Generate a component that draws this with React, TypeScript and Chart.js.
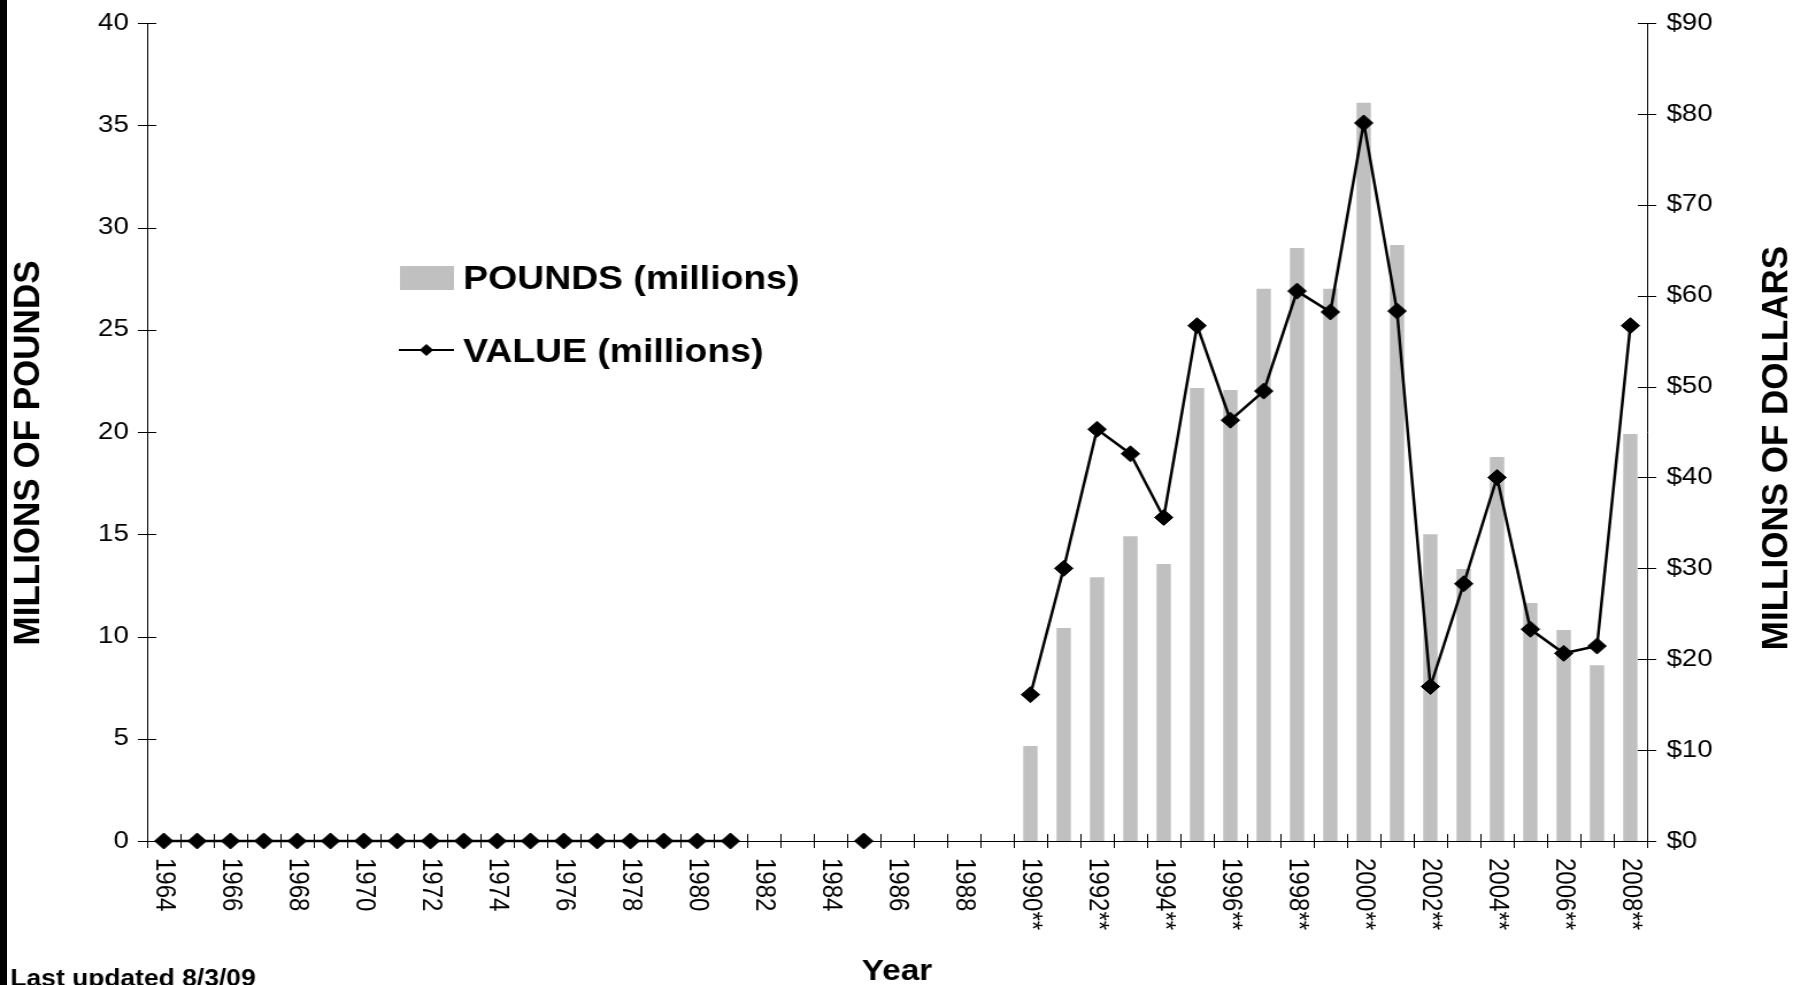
import React, { useEffect, useRef } from 'react';
import { Chart, registerables } from 'chart.js';

Chart.register(...registerables);

// ---- data ----
const years = [
  '1964', '1965', '1966', '1967', '1968', '1969', '1970', '1971', '1972', '1973',
  '1974', '1975', '1976', '1977', '1978', '1979', '1980', '1981', '1982', '1983',
  '1984', '1985', '1986', '1987', '1988', '1989',
  '1990**', '1991**', '1992**', '1993**', '1994**', '1995**', '1996**', '1997**',
  '1998**', '1999**', '2000**', '2001**', '2002**', '2003**', '2004**', '2005**',
  '2006**', '2007**', '2008**',
];

const tickLabels = [
  '1964', '1966', '1968', '1970', '1972', '1974', '1976', '1978', '1980', '1982',
  '1984', '1986', '1988', '1990**', '1992**', '1994**', '1996**', '1998**',
  '2000**', '2002**', '2004**', '2006**', '2008**',
];

const pounds: (number | null)[] = [
  0, 0, 0, 0, 0, 0, 0, 0, 0, 0, 0, 0, 0, 0, 0, 0, 0, 0,
  null, null, null, 0, null, null, null, null,
  4.65, 10.42, 12.9, 14.9, 13.55, 22.15, 22.05, 27.0, 29.0, 27.0,
  36.1, 29.15, 15.0, 13.3, 18.78, 11.64, 10.32, 8.6, 19.9,
];

const values: (number | null)[] = [
  0, 0, 0, 0, 0, 0, 0, 0, 0, 0, 0, 0, 0, 0, 0, 0, 0, 0,
  null, null, null, 0, null, null, null, null,
  16.1, 30.0, 45.3, 42.6, 35.6, 56.7, 46.3, 49.5, 60.5, 58.2,
  79.0, 58.3, 17.0, 28.3, 40.0, 23.3, 20.65, 21.45, 56.7,
];

const legendLabels = ['POUNDS (millions)', 'VALUE (millions)'];
const leftTitle = 'MILLIONS OF POUNDS';
const rightTitle = 'MILLIONS OF DOLLARS';
const xTitle = 'Year';
const footnote = 'Last updated 8/3/09';

// ---- style ----
const FONT = '"Liberation Sans", Arial, Helvetica, sans-serif';
const BAR_COLOR = '#C0C0C0';
const VW = 1560; // internal canvas width, stretched to 1793 by CSS
const VH = 985;
const STRETCH = 1793 / VW;

function diamond(ctx: CanvasRenderingContext2D, x: number, y: number, r: number) {
  ctx.beginPath();
  ctx.moveTo(x, y - r);
  ctx.lineTo(x + r, y);
  ctx.lineTo(x, y + r);
  ctx.lineTo(x - r, y);
  ctx.closePath();
  ctx.fill();
}

function verticalTitle(ctx: CanvasRenderingContext2D, text: string, cx: number, cy: number) {
  ctx.save();
  ctx.translate(cx, cy);
  ctx.rotate(-Math.PI / 2);
  ctx.scale(1, 1 / STRETCH);
  ctx.fillText(text, 0, 0);
  ctx.restore();
}

const overlay = {
  id: 'overlay',
  afterDraw(chart: any) {
    const { ctx, chartArea, scales } = chart;
    const x = scales.x;
    const y = scales.y;
    const y1 = scales.y1;
    ctx.save();
    ctx.strokeStyle = '#000';
    ctx.lineWidth = 1;
    ctx.beginPath();
    y.ticks.forEach((t: any) => {
      const py = Math.round(y.getPixelForValue(t.value)) + 0.5;
      ctx.moveTo(chartArea.left - 8, py);
      ctx.lineTo(chartArea.left + 8, py);
    });
    y1.ticks.forEach((t: any) => {
      const py = Math.round(y1.getPixelForValue(t.value)) + 0.5;
      ctx.moveTo(chartArea.right - 8, py);
      ctx.lineTo(chartArea.right + 8, py);
    });
    const n = years.length;
    for (let i = 0; i <= n; i++) {
      const px = Math.round(x.left + (i * x.width) / n) + 0.5;
      ctx.moveTo(px, chartArea.bottom - 7);
      ctx.lineTo(px, chartArea.bottom + 7);
    }
    ctx.stroke();

    // x tick labels (rotated clockwise)
    ctx.fillStyle = '#000';
    ctx.font = `24px ${FONT}`;
    ctx.textAlign = 'left';
    ctx.textBaseline = 'middle';
    years.forEach((lab, i) => {
      if (!tickLabels.includes(lab)) return;
      const px = x.getPixelForValue(i);
      ctx.save();
      ctx.translate(px, chartArea.bottom + 17);
      ctx.rotate(Math.PI / 2);
      ctx.fillText(lab, 0, 0);
      ctx.restore();
    });

    // axis titles
    ctx.font = `bold 35px ${FONT}`;
    ctx.textAlign = 'center';
    ctx.textBaseline = 'middle';
    verticalTitle(ctx, leftTitle, 26, 453);
    verticalTitle(ctx, rightTitle, 1547, 448);

    ctx.font = `bold 29px ${FONT}`;
    ctx.textBaseline = 'alphabetic';
    ctx.fillText(xTitle, (chartArea.left + chartArea.right) / 2, 980);

    ctx.font = `bold 23px ${FONT}`;
    ctx.textAlign = 'left';
    ctx.fillText(footnote, 9, 986);

    // legend
    ctx.fillStyle = BAR_COLOR;
    ctx.fillRect(348, 266, 47, 24);
    ctx.strokeStyle = '#000';
    ctx.lineWidth = 2;
    ctx.beginPath();
    ctx.moveTo(347, 350);
    ctx.lineTo(395, 350);
    ctx.stroke();
    ctx.fillStyle = '#000';
    diamond(ctx, 371, 350, 6);
    ctx.font = `bold 32.5px ${FONT}`;
    ctx.textAlign = 'left';
    ctx.textBaseline = 'alphabetic';
    ctx.fillText(legendLabels[0], 403, 289);
    ctx.fillText(legendLabels[1], 403, 362);
    ctx.restore();
  },
};

export default function App() {
  const ref = useRef<HTMLCanvasElement | null>(null);

  useEffect(() => {
    if (!ref.current) return;
    const chart = new Chart(ref.current, {
      type: 'bar',
      data: {
        labels: years,
        datasets: [
          {
            type: 'bar',
            label: legendLabels[0],
            data: pounds,
            backgroundColor: BAR_COLOR,
            borderWidth: 0,
            barPercentage: 0.43,
            categoryPercentage: 1.0,
            yAxisID: 'y',
            order: 1,
          },
          {
            type: 'line',
            label: legendLabels[1],
            data: values,
            borderColor: '#000',
            borderWidth: 2.5,
            backgroundColor: '#000',
            pointStyle: 'rectRot',
            pointRadius: 8,
            pointBackgroundColor: '#000',
            pointBorderColor: '#000',
            pointBorderWidth: 1,
            spanGaps: false,
            tension: 0,
            clip: false,
            yAxisID: 'y1',
            order: 0,
          } as any,
        ],
      },
      options: {
        responsive: false,
        animation: false,
        devicePixelRatio: 1,
        events: [],
        layout: { padding: { top: 23, left: 0, right: 0, bottom: 0 } },
        plugins: { legend: { display: false }, tooltip: { enabled: false } },
        scales: {
          x: {
            type: 'category',
            offset: true,
            grid: { display: false, drawTicks: false },
            border: { display: true, color: '#000', width: 1 },
            ticks: { display: false },
            afterFit: (s: any) => { s.height = 144; s.paddingLeft = 0; s.paddingRight = 0; },
          },
          y: {
            position: 'left',
            min: 0,
            max: 40,
            grid: { display: false, drawTicks: false },
            border: { display: true, color: '#000', width: 1 },
            ticks: { stepSize: 5, color: '#000', padding: 16, font: { family: FONT, size: 24 } },
            afterFit: (s: any) => { s.width = 128; s.paddingTop = 0; s.paddingBottom = 0; },
          },
          y1: {
            position: 'right',
            min: 0,
            max: 90,
            grid: { display: false, drawTicks: false },
            border: { display: true, color: '#000', width: 1 },
            ticks: {
              stepSize: 10,
              color: '#000',
              padding: 17,
              font: { family: FONT, size: 24 },
              callback: (v: any) => '$' + v,
            },
            afterFit: (s: any) => { s.width = 127; s.paddingTop = 0; s.paddingBottom = 0; },
          },
        },
      },
      plugins: [overlay],
    });
    return () => chart.destroy();
  }, []);

  return (
    <div style={{ position: 'absolute', left: 0, top: 0, width: 1793, height: 985, background: '#fff', overflow: 'hidden' }}>
      <canvas ref={ref} width={VW} height={VH} style={{ width: '1793px', height: '985px', display: 'block' }} />
      <div style={{ position: 'absolute', left: 0, top: 0, width: 7, height: 985, background: '#000' }} />
    </div>
  );
}
